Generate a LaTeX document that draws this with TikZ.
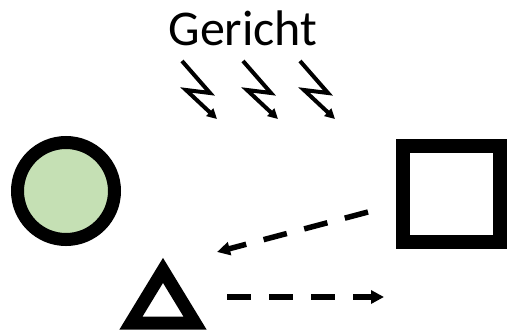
\documentclass[tikz,border=0pt]{standalone}
\usepackage{fontspec}
\setmainfont{Carlito}
\usetikzlibrary{arrows.meta}
\definecolor{lightgreen}{RGB}{197,224,180}
\tikzset{
  ring/.style={circle,draw=black,line width=13pt,fill=lightgreen,minimum size=97pt,inner sep=0pt},
  boxshape/.style={rectangle,draw=black,line width=14pt,fill=white,minimum width=97pt,minimum height=96pt,inner sep=0pt},
  trishape/.style={draw=black,line width=13pt,line join=miter,fill=white},
  bolt/.style={line width=4pt,line join=miter,-{Triangle[length=10pt,width=10pt]}},
  dasharrow/.style={line width=5.5pt,dash pattern=on 24pt off 18pt,-{Triangle[length=13pt,width=13pt]}},
  label/.style={font=\fontsize{50}{60}\selectfont,anchor=base,inner sep=0pt}
}
\begin{document}
\begin{tikzpicture}[x=1pt,y=-1pt]
\useasboundingbox (0,0) rectangle (509,335);
\node[label] (title) at (243,45) {Gericht};
\foreach \dx in {0,61,118}{
  \draw[bolt] (182+\dx,61) -- (210+\dx,93) -- (186+\dx,90) -- (217+\dx,119);
}
\node[ring] (circ) at (66,191) {};
\node[boxshape] (sq) at (451.5,194) {};
\coordinate (tri) at (163,305);
\draw[trishape] (163,270.4) -- (131,323) -- (195,323) -- cycle;
\coordinate (a1s) at (368,212);
\coordinate (a1e) at (217,252);
\coordinate (a2s) at (227,297);
\coordinate (a2e) at (384,297);
\draw[dasharrow] (a1s) -- (a1e);
\draw[dasharrow] (a2s) -- (a2e);
\end{tikzpicture}
\end{document}
